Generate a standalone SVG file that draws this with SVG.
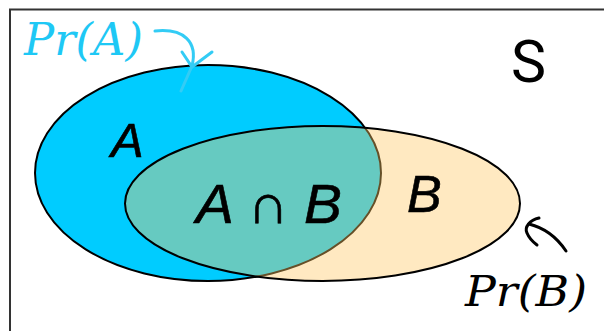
<svg xmlns="http://www.w3.org/2000/svg" width="604" height="331" viewBox="0 0 604 331">
<style>
.ell{stroke:#000;stroke-width:2}
.lbl{font-family:"Liberation Sans",Arial,sans-serif;font-style:italic;fill:#000;stroke:#000;stroke-width:0.6}
.pr{font-family:"DejaVu Serif","Liberation Serif",serif;font-style:italic}
.arr{fill:none;stroke-width:3;stroke-linecap:round;stroke-linejoin:round}
</style>
<rect x="10" y="9.5" width="640" height="360" fill="#fff" stroke="#333" stroke-width="2"/>
<g id="A">
<ellipse class="ell" cx="208" cy="173" rx="173" ry="108" fill="#00CCFF"/>
</g>
<g id="B">
<ellipse cx="322.5" cy="203.5" rx="197.5" ry="77.5" fill="#FFC864" fill-opacity="0.4"/>
<ellipse cx="322.5" cy="203.5" rx="197.5" ry="77.5" fill="none" stroke="#000" stroke-width="2"/>
</g>
<g id="labels">
<text class="lbl" x="111" y="157" font-size="49">A</text>
<text class="lbl" x="196" y="223" font-size="56" textLength="146" lengthAdjust="spacingAndGlyphs">A ∩ B</text>
<text class="lbl" x="407" y="212" font-size="52">B</text>
<text x="511" y="82" font-family="Roboto,'Liberation Sans',sans-serif" font-size="59" fill="#000">S</text>
<text class="pr" x="24" y="55" font-size="44" fill="#1EC8F5" textLength="119" lengthAdjust="spacingAndGlyphs">Pr(A)</text>
<text class="pr" x="465" y="306" font-size="43" fill="#000" textLength="122" lengthAdjust="spacingAndGlyphs">Pr(B)</text>
</g>
<g id="connectors">
<path class="arr" stroke="#33CCF5" d="M155,31 C184,28 198,42 192,66 L181,91"/>
<path class="arr" stroke="#33CCF5" d="M182,52 L192,67 L212,52"/>
<path class="arr" stroke="#000" d="M566,251 C556,236 545,228 529,224"/>
<path class="arr" stroke="#000" d="M539,218 C530,220 524,227 527,233 C529,238 533,242 537,245"/>
</g>
</svg>
